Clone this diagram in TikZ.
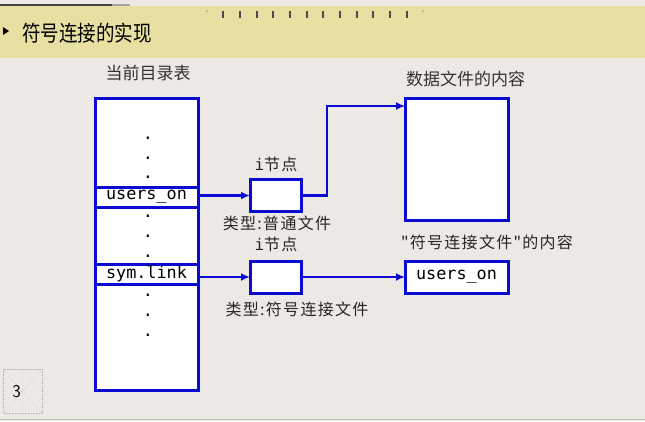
\documentclass[tikz,border=0pt]{standalone}
\usepackage{fontspec}
\usepackage{graphicx}
\newfontfamily\cjk{Noto Sans CJK SC}
\newfontfamily\cjkwide[LetterSpace=8]{Noto Sans CJK SC}
\newfontfamily\mono{DejaVu Sans Mono}
\usetikzlibrary{arrows.meta}
\definecolor{bg}{HTML}{ECE9E5}
\definecolor{titlebar}{HTML}{E8E0A2}
\definecolor{lineblue}{HTML}{0A0AD2}
\tikzset{
  bluebox/.style={draw=lineblue, line width=3pt, fill=white, inner sep=0pt, outer sep=0pt},
  conn/.style={draw=lineblue, line width=2.8pt, line join=miter, -{Latex[length=9pt,width=8pt]}},
  lbl/.style={inner sep=0pt, font=\cjkwide\fontsize{16}{16}\selectfont, text=black!85},
  hdrlbl/.style={inner sep=0pt, font=\cjk\fontsize{17}{17}\selectfont, text=black!80},
  monolbl/.style={font=\mono\fontsize{16.8}{16.8}\selectfont},
  dotlbl/.style={inner sep=0pt, font=\mono\fontsize{16.8}{16.8}\selectfont}
}
\begin{document}
\begin{tikzpicture}[x=1pt,y=-1pt]
\useasboundingbox (0,0) rectangle (645,421);
\fill[bg] (0,0) rectangle (645,421);
% top strip and title bar
\fill[titlebar] (0,6) rectangle (645,58);
\draw[black!75, line width=1.5pt] (0,5) -- (112,5);
\draw[black!35, line width=1.5pt] (112,5) -- (130,5);
\foreach \x in {223,240,257,273,290,307,323,340,357,373,390,407}
  \draw[black!70, line width=1.1pt] (\x,11) -- (\x,18);
\fill[black!70] (207,11) circle (0.7pt);
\fill[black!70] (423,11) circle (0.7pt);
\fill[black] (3,27) -- (9,31) -- (3,35) -- cycle;
\node[inner sep=0pt, anchor=west, font=\cjk\fontsize{18.5}{18.5}\selectfont] (title) at (22,33) {\scalebox{1}[1.18]{符号连接的实现}};
\draw[black!25, line width=1pt] (0,419) -- (645,419);
% page number box
\draw[black!30, densely dotted, line width=0.6pt] (3,369) rectangle (42,413);
\draw[black!15, line width=0.4pt] (3,369) -- (42,413) (42,369) -- (3,413) (22.5,369) -- (22.5,413) (3,391) -- (42,391);
\node[inner sep=0pt, font=\sffamily\fontsize{18}{18}\selectfont] (pnum) at (16.5,392) {3};

% directory table
\node[hdrlbl] (dirlbl) at (148,73) {当前目录表};
\node[bluebox, anchor=north west, minimum width=103pt, minimum height=292pt] (dir) at (95,98) {};
\node[bluebox, minimum width=103pt, minimum height=20pt, monolbl] (row1) at (146.5,197) {users\_on};
\node[bluebox, minimum width=103pt, minimum height=20pt, monolbl] (row2) at (146.5,274) {sym.link};
\foreach \y [count=\i] in {138,158,177,216,236,256,295,315,335}
  \node[dotlbl] (dot\i) at (148,\y) {.};

% inode 1
\node[lbl] (i1lbl) at (276,164) {{\mono i}节点};
\node[bluebox, minimum width=51pt, minimum height=32pt] (inode1) at (275.5,195.5) {};
\node[lbl] (t1lbl) at (277,223) {类型:普通文件};
% data box
\node[hdrlbl] (datalbl) at (465.5,79) {数据文件的内容};
\node[bluebox, anchor=north west, minimum width=103pt, minimum height=122pt] (data) at (405,98) {};

% inode 2
\node[lbl] (i2lbl) at (276,244) {{\mono i}节点};
\node[bluebox, minimum width=51pt, minimum height=32pt] (inode2) at (275.5,277) {};
\node[lbl] (t2lbl) at (297,309) {类型:符号连接文件};
% symlink content
\node[lbl] (symlbl) at (487,242) {"符号连接文件"的内容};
\node[bluebox, minimum width=103pt, minimum height=32pt, monolbl] (target) at (456.5,277) {users\_on};

% connectors
\draw[conn] (row1.east |- inode1.west) -- (inode1.west);
\draw[conn] (inode1.east) -- ++(26,0) |- ([yshift=-8pt]data.north west);
\draw[conn] (row2.east |- inode2.west) -- (inode2.west);
\draw[conn] (inode2.east) -- (target.west);
\end{tikzpicture}
\end{document}
